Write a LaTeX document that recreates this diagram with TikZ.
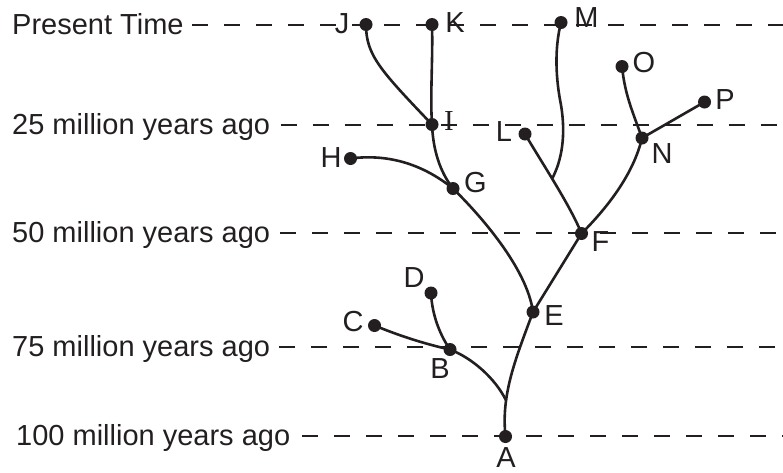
\documentclass[tikz,border=0pt]{standalone}
\usepackage{fontspec}
\setmainfont{Liberation Sans}
\newfontfamily\serifI{Liberation Serif}
\definecolor{ink}{RGB}{35,31,32}
\begin{document}
\begin{tikzpicture}[x=1pt,y=-1pt,
  dot/.style={circle, fill=ink, inner sep=0pt, minimum size=13pt},
  lbl/.style={inner sep=0pt, text=ink, font=\fontsize{29}{33}\selectfont},
  era/.style={inner sep=0pt, anchor=base west, text=ink, font=\fontsize{29}{33}\selectfont},
  timeline/.style={draw=ink, line width=1.3pt, dash pattern=on 16pt off 16pt},
  branch/.style={draw=ink, line width=2.6pt}]
\useasboundingbox (0,0) rectangle (783,472);
% time axis labels
\node[era] (t0) at (12,34) {Present Time};
\node[era] (t1) at (12,134) {25 million years ago};
\node[era] (t2) at (12,242) {50 million years ago};
\node[era] (t3) at (12,356) {75 million years ago};
\node[era] (t4) at (16,445) {100 million years ago};
\coordinate (s0) at (192,25);  \coordinate (r0) at (783,25);
\coordinate (s1) at (281,125); \coordinate (r1) at (783,125);
\coordinate (s2) at (280,233); \coordinate (r2) at (783,233);
\coordinate (s3) at (279,347); \coordinate (r3) at (783,347);
\coordinate (s4) at (302,436); \coordinate (r4) at (783,436);
\draw[timeline] (s0) -- (r0);
\draw[timeline] (s1) -- (r1);
\draw[timeline] (s2) -- (r2);
\draw[timeline] (s3) -- (r3);
\draw[timeline] (s4) -- (r4);
% dots
\node[dot] (J) at (366,24.5) {};
\node[dot] (K) at (432,24.5) {};
\node[dot] (M) at (561,22.5) {};
\node[dot] (O) at (622,66.5) {};
\node[dot] (P) at (704.5,102) {};
\node[dot] (I) at (432,124.5) {};
\node[dot] (L) at (525,134) {};
\node[dot] (N) at (642,138) {};
\node[dot] (H) at (350.5,158.5) {};
\node[dot] (G) at (453,188.5) {};
\node[dot] (F) at (581.5,233.5) {};
\node[dot] (E) at (533,312) {};
\node[dot] (D) at (431,293) {};
\node[dot] (C) at (374.5,325.5) {};
\node[dot] (B) at (450,349.5) {};
\node[dot] (A) at (505.5,436.5) {};
% letters
\node[lbl] (Jt) at (342,24) {J};
\node[lbl] (Kt) at (455,23) {K};
\node[lbl] (Mt) at (586.5,18) {M};
\node[lbl] (Ot) at (644,63) {O};
\node[lbl] (Pt) at (725,100) {P};
\node[lbl] (It) at (449,121) {\serifI I};
\node[lbl] (Lt) at (504,132) {L};
\node[lbl] (Nt) at (662,154) {N};
\node[lbl] (Ht) at (331,157.5) {H};
\node[lbl] (Gt) at (475.5,183) {G};
\node[lbl] (Ft) at (600.5,242) {F};
\node[lbl] (Et) at (554,316) {E};
\node[lbl] (Dt) at (414,278) {D};
\node[lbl] (Ct) at (353,322) {C};
\node[lbl] (Bt) at (440,369) {B};
\node[lbl] (At) at (506,458) {A};
% branches
\draw[branch] (J.center) .. controls (366,55) and (380,70) .. (I.center);
\draw[branch] (K.center) .. controls (433,60) and (430,95) .. (I.center);
\draw[branch] (I.center) .. controls (433,150) and (440,172) .. (G.center);
\draw[branch] (H.center) .. controls (385,154) and (420,162) .. (G.center);
\draw[branch] (G.center) .. controls (480,215) and (527,268) .. (E.center);
\draw[branch] (E.center) -- (F.center);
\draw[branch] (L.center) .. controls (542,163) and (570,205) .. (F.center) coordinate[pos=0.45] (jm);
\draw[branch] (M.center) .. controls (554,50) and (556,80) .. (561,105) .. controls (566,135) and (562,160) .. (jm);
\draw[branch] (N.center) .. controls (634,172) and (610,205) .. (F.center);
\draw[branch] (O.center) .. controls (625,95) and (632,110) .. (N.center);
\draw[branch] (N.center) -- (P.center);
\draw[branch] (A.center) .. controls (501,395) and (515,360) .. (E.center) coordinate[pos=0.3] (ja);
\draw[branch] (B.center) .. controls (472,358) and (495,378) .. (ja);
\draw[branch] (C.center) .. controls (400,336) and (425,344) .. (B.center);
\draw[branch] (D.center) .. controls (432,315) and (440,335) .. (B.center);
\end{tikzpicture}
\end{document}
